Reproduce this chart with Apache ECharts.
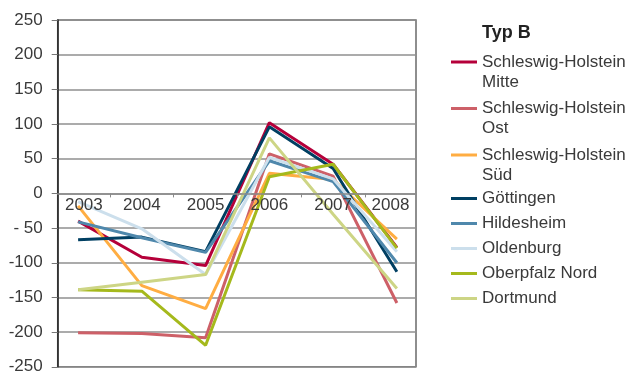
<!DOCTYPE html>
<html>
<head>
<meta charset="utf-8">
<script src="https://cdn.jsdelivr.net/npm/echarts@6/dist/echarts.min.js"></script>
<style>
  html, body { margin: 0; padding: 0; background: #fff; }
  #chart { width: 640px; height: 372px; }
</style>
</head>
<body>
<div id="chart"></div>
<script>
// Years on the horizontal axis
const years = ['2003', '2004', '2005', '2006', '2007', '2008'];

// Values per region (Typ B)
const shMitte     = [-40, -92, -104, 102, 42, -78];
const shOst       = [-201, -202, -208, 57, 25, -158];
const shSued      = [-18, -133, -166, 29, 20, -66];
const goettingen  = [-67, -63, -84, 96, 36, -113];
const hildesheim  = [-41, -64, -85, 47, 17, -100];
const oldenburg   = [-12, -51, -117, 52, 21, -84];
const oberpfalz   = [-139, -141, -219, 24, 42, -79];
const dortmund    = [-139, -128, -117, 80, -30, -137];

// Y axis tick values
const yTicks = [-250, -200, -150, -100, -50, 0, 50, 100, 150, 200, 250];

const seriesDefs = [
  { name: 'Schleswig-Holstein Mitte', values: shMitte,    color: '#B5003A' },
  { name: 'Schleswig-Holstein Ost',   values: shOst,      color: '#CD6068' },
  { name: 'Schleswig-Holstein Süd',   values: shSued,     color: '#FFAD42' },
  { name: 'Göttingen',                values: goettingen, color: '#003F62' },
  { name: 'Hildesheim',               values: hildesheim, color: '#4F88AC' },
  { name: 'Oldenburg',                values: oldenburg,  color: '#CCDFEC' },
  { name: 'Oberpfalz Nord',           values: oberpfalz,  color: '#A5B91C' },
  { name: 'Dortmund',                 values: dortmund,   color: '#CDD585' }
];

// visible x range (the first and last year bands are cut by the frame)
const xMin = -0.32, xMax = 5.3;
const tickPositions = years.slice(1).map((y, i) => i + 0.5);
const labelPositions = years.map((y, i) => (Math.max(xMin, i - 0.5) + Math.min(xMax, i + 0.5)) / 2);

const font = 'Liberation Sans, Arial, sans-serif';
const textColor = '#3a3a3a';
const SH = 'Schleswig-Holstein ';

// padding of the two-line legend names: first line stays level with the key,
// the box height sets the distance to the entry above
const twoLinePadding = {
  'Schleswig-Holstein Mitte': [4, 0, -16, 0],
  'Schleswig-Holstein Ost':   [3, 0, -17, 0],
  'Schleswig-Holstein Süd':   [3, 0, -17, 0]
};

const chart = echarts.init(document.getElementById('chart'), null, { renderer: 'canvas' });

const option = {
  animation: false,
  backgroundColor: '#fff',
  title: {
    text: 'Typ B',
    left: 482,
    top: 24,
    padding: 0,
    textStyle: { fontFamily: font, fontSize: 18, fontWeight: 'bold', color: '#222' }
  },
  legend: {
    orient: 'vertical',
    left: 451,
    top: 48,
    padding: 0,
    itemWidth: 26,
    itemHeight: 3,
    itemGap: 5,
    icon: 'rect',
    selectedMode: false,
    textStyle: {
      fontFamily: font, fontSize: 17, color: textColor, lineHeight: 20,
      rich: { t: { fontFamily: font, fontSize: 17, color: textColor, lineHeight: 20 } }
    },
    formatter: n => n.indexOf(SH) === 0 ? '{t|Schleswig-Holstein}\n{t|' + n.slice(SH.length) + '}' : n,
    data: seriesDefs.map(s => twoLinePadding[s.name]
      ? { name: s.name, textStyle: { padding: twoLinePadding[s.name] } }
      : { name: s.name })
  },
  grid: {
    left: 57.7, right: 224, top: 20, bottom: 5.2,
    outerBoundsMode: 'none',
    containLabel: false,
    show: true, borderColor: '#6a6a6a', borderWidth: 1.5, backgroundColor: 'transparent'
  },
  xAxis: {
    type: 'value',
    min: xMin,
    max: xMax,
    position: 'bottom',
    offset: 0,
    z: 5,
    axisLine: { onZero: false, lineStyle: { color: '#8a8a8a', width: 1.5 } },
    axisTick: { show: true, customValues: tickPositions, length: 4, lineStyle: { color: '#8a8a8a', width: 1 } },
    axisLabel: {
      customValues: labelPositions,
      formatter: v => years[Math.round(v)],
      fontFamily: font, fontSize: 17, color: textColor, margin: 3
    },
    splitLine: { show: false }
  },
  yAxis: {
    type: 'value',
    min: yTicks[0],
    max: yTicks[yTicks.length - 1],
    interval: 50,
    axisLine: { show: true, onZero: false, lineStyle: { color: '#222', width: 1.5 } },
    axisTick: { show: true, length: 6, lineStyle: { color: '#777', width: 1 } },
    axisLabel: {
      fontFamily: font, fontSize: 17, color: textColor, margin: 15,
      formatter: v => (v < 0 && v > -100) ? '- ' + Math.abs(v) : String(v)
    },
    splitLine: { show: true, lineStyle: { color: '#8f8f8f', width: 1.5 } }
  },
  series: seriesDefs.map(s => ({
    type: 'line',
    name: s.name,
    data: s.values.map((v, i) => [i, v]),
    showSymbol: false,
    symbol: 'none',
    color: s.color,
    lineStyle: { color: s.color, width: 3 }
  }))
};

chart.setOption(option);

// the year axis runs along the zero line of the value axis
const zeroY = chart.convertToPixel({ yAxisIndex: 0 }, 0);
const floorY = chart.convertToPixel({ yAxisIndex: 0 }, yTicks[0]);
chart.setOption({ xAxis: { offset: zeroY - floorY } });
</script>
</body>
</html>
